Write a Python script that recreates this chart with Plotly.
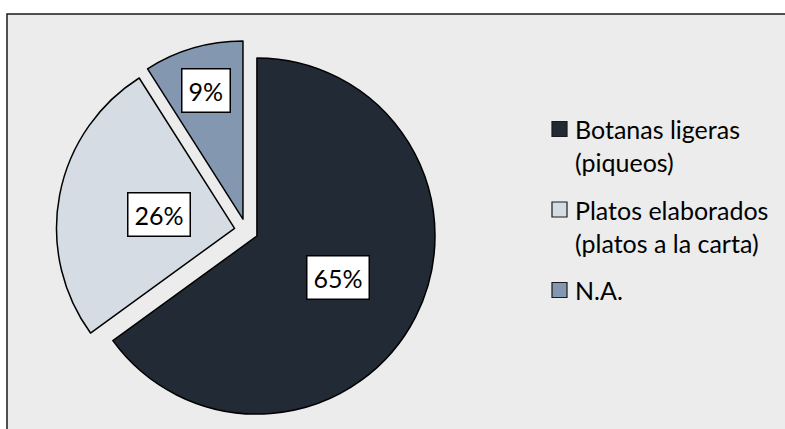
import math
import plotly.graph_objects as go

# Share of respondents by type of food preferred
labels = ["Botanas ligeras<br>(piqueos)", "Platos elaborados<br>(platos a la carta)", "N.A."]
values = [65, 26, 9]
colors = ["#222A35", "#D6DCE4", "#8497B0"]

W, H = 785, 429
FONT = "Lato"
PULL = 0.067
DOMAIN_X = [0.0717, 0.5558]
DOMAIN_Y = [0.0196, 0.9054]

fig = go.Figure(
    go.Pie(
        labels=[l.replace("<br>", " ") for l in labels],
        values=values,
        sort=False,
        direction="clockwise",
        rotation=0,
        pull=[PULL] * len(values),
        marker=dict(colors=colors, line=dict(color="#000000", width=1.5)),
        textinfo="none",
        hoverinfo="label+percent",
        showlegend=False,
        domain=dict(x=DOMAIN_X, y=DOMAIN_Y),
    )
)

# pie geometry in pixels, mirroring plotly's own layout of the trace
box_w = W * (DOMAIN_X[1] - DOMAIN_X[0])
box_h = H * (DOMAIN_Y[1] - DOMAIN_Y[0])
r = min(box_w, box_h) / (2 + 2 * PULL)
cx = W * (DOMAIN_X[0] + DOMAIN_X[1]) / 2
cy = H * (1 - (DOMAIN_Y[0] + DOMAIN_Y[1]) / 2)

# boxed percentage labels placed along each slice's bisector
label_radius = [0.51, 0.43, 0.75]
total = sum(values)
start = 0.0
annotations = []
for v, frac in zip(values, label_radius):
    mid = math.radians((start + v / 2) / total * 360)
    dx, dy = math.sin(mid), -math.cos(mid)
    px = cx + (PULL + frac) * r * dx
    py = cy + (PULL + frac) * r * dy
    annotations.append(dict(
        x=px / W, y=1 - py / H, xref="paper", yref="paper",
        text=f"{v}%", showarrow=False,
        font=dict(family=FONT, size=25, color="#000000"),
        bgcolor="#FFFFFF", bordercolor="#000000", borderwidth=1.5, borderpad=6,
        xanchor="center", yanchor="middle",
    ))
    start += v

# legend: coloured squares with wrapped category names
LEG_SQ_X = 552
LEG_SQ = 15
LEG_TEXT_X = 573
LEG_TOP = 129
LINE_STEP = 33
ITEM_GAP = 47.5
shapes = [dict(
    type="rect", xref="paper", yref="paper", layer="below",
    x0=7 / W, x1=1.02, y0=-0.02, y1=1 - 14 / H,
    fillcolor="#ECECEC", line=dict(color="#1a1a1a", width=1.5),
)]
y_line = LEG_TOP
for lab, col in zip(labels, colors):
    lines = lab.split("<br>")
    shapes.append(dict(
        type="rect", xref="paper", yref="paper",
        x0=LEG_SQ_X / W, x1=(LEG_SQ_X + LEG_SQ) / W,
        y0=1 - (y_line + LEG_SQ / 2) / H, y1=1 - (y_line - LEG_SQ / 2) / H,
        fillcolor=col, line=dict(color="#1a1a1a", width=1.2),
    ))
    for j, ln in enumerate(lines):
        annotations.append(dict(
            x=LEG_TEXT_X / W, y=1 - (y_line + j * LINE_STEP) / H,
            xref="paper", yref="paper", text=ln, showarrow=False,
            font=dict(family=FONT, size=25, color="#000000"),
            xanchor="left", yanchor="middle",
        ))
    y_line += (len(lines) - 1) * LINE_STEP + ITEM_GAP

fig.update_layout(
    width=W, height=H,
    margin=dict(l=0, r=0, t=0, b=0),
    paper_bgcolor="#FFFFFF",
    shapes=shapes,
    annotations=annotations,
)

fig.write_html("out.html")
